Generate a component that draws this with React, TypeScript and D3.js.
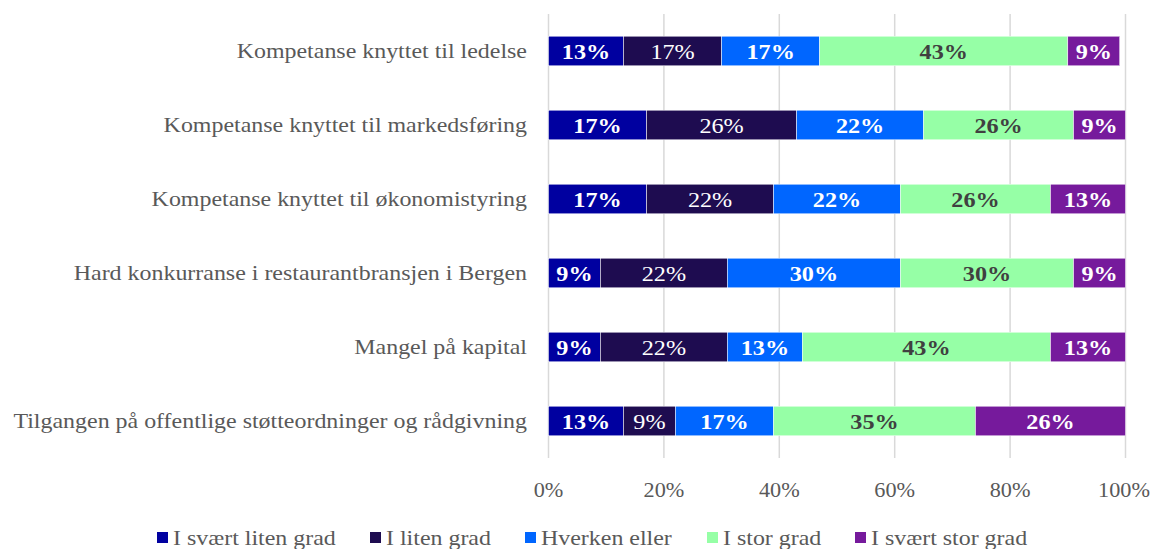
import React from "react"
import * as d3 from "d3"

const categories = [
  "Kompetanse knyttet til ledelse",
  "Kompetanse knyttet til markedsføring",
  "Kompetanse knyttet til økonomistyring",
  "Hard konkurranse i restaurantbransjen i Bergen",
  "Mangel på kapital",
  "Tilgangen på offentlige støtteordninger og rådgivning",
]

const seriesNames = [
  "I svært liten grad",
  "I liten grad",
  "Hverken eller",
  "I stor grad",
  "I svært stor grad",
]

const sveartLiten = [13, 17, 17, 9, 9, 13]
const liten = [17, 26, 22, 22, 22, 9]
const hverken = [17, 22, 22, 30, 13, 17]
const stor = [43, 26, 26, 30, 43, 35]
const svaertStor = [9, 9, 13, 9, 13, 26]

const xTicks = [0, 20, 40, 60, 80, 100]

const colors = ["#0000A0", "#1E0C50", "#0066FF", "#96FFA6", "#761A9C"]
const labelColors = ["#fff", "#fff", "#fff", "#404040", "#fff"]
const labelWeights = ["bold", "normal", "bold", "bold", "bold"]

const legendX = [157, 370, 525, 707, 855]

const font = "'Liberation Serif', 'Times New Roman', serif"

// the original text is a bit stretched sideways
const STRETCH = 1.14

const Txt = ({ x, y, sx = STRETCH, children, ...rest }: any) => (
  <text transform={`translate(${x},${y}) scale(${sx},1)`} {...rest}>
    {children}
  </text>
)

const App = () => {
  const width = 1150
  const height = 549
  const left = 548.5
  const right = 1125.5
  const top = 14
  const bottom = 458

  const values = [sveartLiten, liten, hverken, stor, svaertStor]
  const rows = categories.map((c, i) => {
    const r: any = { cat: c }
    values.forEach((v, k) => (r["s" + k] = v[i]))
    return r
  })
  const stack = d3
    .stack()
    .keys(values.map((_, k) => "s" + k))(rows)

  const xScale = d3.scaleLinear().domain([0, 100]).range([left, right])
  const yScale = d3
    .scaleBand()
    .domain(categories)
    .range([top, bottom])
    .paddingInner(0.6)
    .paddingOuter(0.3)

  return (
    <svg
      width={width}
      height={height}
      style={{ position: "absolute", left: 0, top: 0, background: "#fff" }}
      fontFamily={font}
    >
      {xTicks.map((t) => (
        <g key={t}>
          <line
            x1={xScale(t)}
            x2={xScale(t)}
            y1={top}
            y2={bottom}
            stroke="#d9d9d9"
            strokeWidth={1.5}
          />
          <Txt
            x={t === 100 ? xScale(t) - 1.5 : xScale(t)}
            y={497}
            sx={1.06}
            textAnchor="middle"
            fontSize={21}
            fill="#595959"
          >
            {t}%
          </Txt>
        </g>
      ))}
      {categories.map((c) => (
        <Txt
          key={c}
          x={527}
          y={yScale(c)! + yScale.bandwidth() / 2 + 7}
          textAnchor="end"
          fontSize={21}
          fill="#595959"
        >
          {c}
        </Txt>
      ))}
      {stack.map((layer, k) =>
        layer.map((d, i) => {
          const y = yScale(categories[i])!
          const x0 = xScale(d[0])
          const x1 = xScale(d[1])
          return (
            <g key={k + "-" + i}>
              <rect
                x={x0}
                y={y}
                width={x1 - x0}
                height={yScale.bandwidth()}
                fill={colors[k]}
                stroke="#fff"
                strokeWidth={0.5}
              />
              <Txt
                x={(x0 + x1) / 2}
                y={y + yScale.bandwidth() / 2 + 7.5}
                sx={1.1}
                textAnchor="middle"
                fontSize={22}
                fontWeight={labelWeights[k]}
                fill={labelColors[k]}
              >
                {values[k][i]}%
              </Txt>
            </g>
          )
        })
      )}
      {seriesNames.map((s, k) => (
        <g key={s}>
          <rect x={legendX[k]} y={532} width={11} height={11} fill={colors[k]} />
          <Txt x={legendX[k] + 16} y={545} fontSize={21} fill="#595959">
            {s}
          </Txt>
        </g>
      ))}
    </svg>
  )
}

export default App
